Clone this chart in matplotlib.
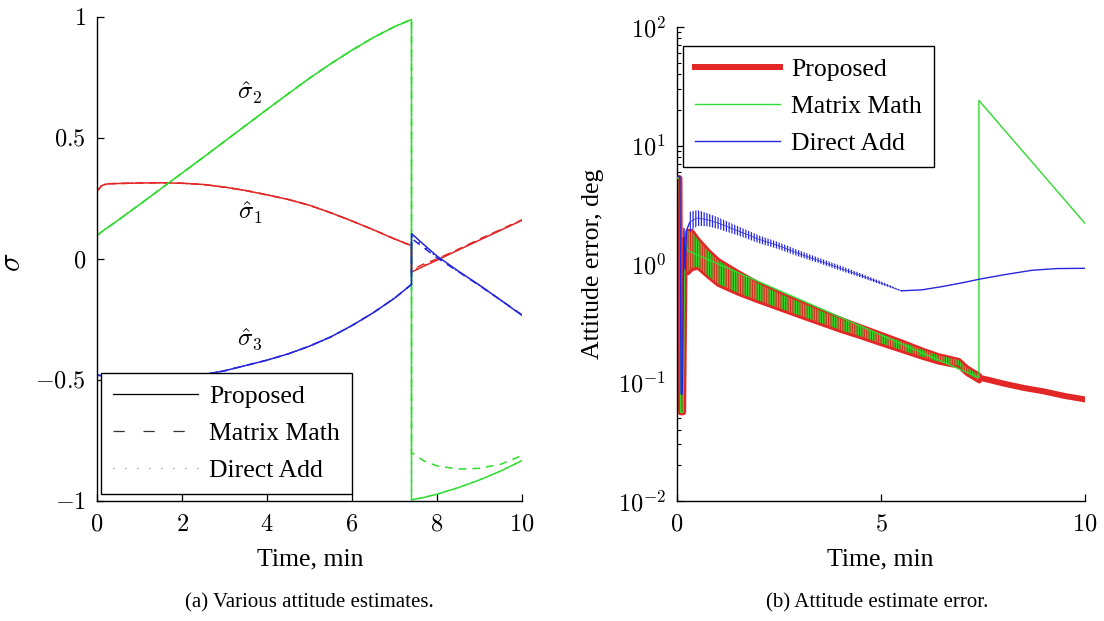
import matplotlib
matplotlib.use('Agg')
import matplotlib.pyplot as plt
from matplotlib.lines import Line2D
from matplotlib.ticker import LogLocator, NullFormatter

plt.rcParams['font.family'] = ['Liberation Serif', 'DejaVu Serif']
plt.rcParams['mathtext.fontset'] = 'cm'
plt.rcParams['hatch.linewidth'] = 0.9

RED = '#e32626'
GREEN = '#2edc2e'
BLUE = '#2626dc'

# ---------------- panel (a): attitude estimates ----------------
t_pre = [0.0, 0.05, 0.1, 0.2, 0.3, 0.5, 1.0, 1.5, 2.0, 2.5, 3.0, 3.5, 4.0,
         4.5, 5.0, 5.5, 6.0, 6.5, 7.0, 7.4]
s1_pre = [0.283, 0.29, 0.302, 0.309, 0.311, 0.312, 0.314, 0.315, 0.313, 0.308,
          0.297, 0.283, 0.265, 0.246, 0.222, 0.191, 0.157, 0.121, 0.083, 0.055]
s2_pre = [0.098, 0.104, 0.111, 0.124, 0.136, 0.161, 0.225, 0.29, 0.355, 0.42,
          0.486, 0.552, 0.618, 0.683, 0.747, 0.807, 0.863, 0.915, 0.96, 0.99]
s3_pre = [-0.48, -0.481, -0.482, -0.484, -0.485, -0.487, -0.492, -0.493, -0.488,
          -0.478, -0.462, -0.44, -0.418, -0.392, -0.36, -0.322, -0.275, -0.222,
          -0.162, -0.105]

t_post = [7.4, 7.7, 8.0, 8.5, 9.0, 9.5, 10.0]
s1_prop = [-0.054, -0.029, -0.005, 0.037, 0.078, 0.119, 0.16]
s2_prop = [-0.995, -0.985, -0.972, -0.945, -0.913, -0.876, -0.833]
s3_prop = [0.105, 0.058, 0.012, -0.05, -0.108, -0.17, -0.233]
s1_mm = [-0.045, -0.02, 0.0, 0.04, 0.082, 0.122, 0.162]
s2_mm = [-0.80, -0.835, -0.855, -0.868, -0.865, -0.848, -0.812]
s3_mm = [0.085, 0.045, 0.005, -0.052, -0.11, -0.17, -0.231]
s1_da = [-0.05, -0.025, -0.002, 0.039, 0.08, 0.12, 0.161]
s2_da = [-0.995, -0.985, -0.972, -0.945, -0.913, -0.876, -0.833]
s3_da = [0.095, 0.05, 0.008, -0.051, -0.109, -0.17, -0.232]

comp_labels = [r'$\hat{\sigma}_1$', r'$\hat{\sigma}_2$', r'$\hat{\sigma}_3$']
comp_label_pos = [(3.6, 0.189), (3.6, 0.685), (3.6, -0.332)]

# ---------------- panel (b): attitude error ----------------
# common initial transient (Proposed and Matrix Math coincide before 7.4 min)
pe_t = [0.0, 0.06, 0.09, 0.15, 0.19, 0.25]
pe_v = [5.3, 5.3, 0.056, 0.056, 1.6, 1.3]
band_t = [0.25, 0.35, 0.5, 0.75, 1.0, 1.5, 2.0, 2.5, 3.0, 3.5, 4.0, 4.5, 5.0,
          5.5, 6.0, 6.4, 6.7, 6.9, 7.1, 7.4]
pe_center = [1.3, 1.35, 1.25, 1.02, 0.86, 0.7, 0.58, 0.49, 0.42, 0.36, 0.31,
             0.27, 0.235, 0.205, 0.178, 0.16, 0.152, 0.147, 0.127, 0.11]
pe_upper = [1.9, 1.9, 1.62, 1.3, 1.08, 0.85, 0.68, 0.565, 0.478, 0.405, 0.345,
            0.297, 0.257, 0.222, 0.19, 0.17, 0.161, 0.155, 0.134, 0.116]
pe_lower = [0.85, 0.92, 0.95, 0.8, 0.68, 0.57, 0.49, 0.425, 0.368, 0.32, 0.278,
            0.245, 0.214, 0.188, 0.165, 0.15, 0.143, 0.139, 0.12, 0.104]
pe_post_t = [7.4, 7.7, 8.0, 8.5, 9.0, 9.5, 10.0]
pe_post_v = [0.11, 0.104, 0.098, 0.09, 0.084, 0.077, 0.072]

mm_post_t = [7.4, 7.4, 10.0]
mm_post_v = [0.11, 24.0, 2.2]

da_spike_t = [0.0, 0.07, 0.1, 0.13, 0.17, 0.2, 0.23, 0.3]
da_spike_v = [5.5, 5.5, 0.08, 0.08, 2.0, 0.9, 1.9, 2.2]
da_band_t = [0.3, 0.5, 0.75, 1.0, 1.5, 2.0, 2.5, 3.0, 3.5, 4.0, 4.5, 5.0, 5.5]
da_center = [2.25, 2.45, 2.36, 2.22, 1.9, 1.62, 1.42, 1.22, 1.06, 0.92, 0.8,
             0.69, 0.594]
da_upper = [2.75, 2.85, 2.68, 2.48, 2.08, 1.75, 1.52, 1.3, 1.12, 0.97, 0.835,
            0.715, 0.6]
da_lower = [1.85, 2.1, 2.08, 1.98, 1.74, 1.5, 1.33, 1.15, 1.01, 0.88, 0.77,
            0.67, 0.588]
da_post_t = [5.5, 6.0, 6.5, 7.0, 7.4, 8.0, 8.7, 9.3, 10.0]
da_post_v = [0.594, 0.605, 0.645, 0.695, 0.743, 0.81, 0.885, 0.915, 0.92]

method_names = ['Proposed', 'Matrix Math', 'Direct Add']

# ---------------- figure ----------------
W, H = 1104, 621
fig = plt.figure(figsize=(W / 100, H / 100), dpi=100)


def fx(px):
    return px / W


def fy(py):
    return 1 - py / H


axA = fig.add_axes([fx(97), fy(501), (522 - 97) / W, (501 - 17) / H])
axB = fig.add_axes([fx(677), fy(501), (1085 - 677) / W, (501 - 27) / H])

TICK_FS = 17.5
LAB_FS = 18.5
LW = 1.1

for ax in (axA, axB):
    ax.spines['top'].set_visible(False)
    ax.spines['right'].set_visible(False)
    for s in ('left', 'bottom'):
        ax.spines[s].set_linewidth(1.0)
    ax.tick_params(which='both', direction='in', labelsize=TICK_FS)
    ax.tick_params(which='major', length=5, width=0.9)
    ax.tick_params(which='minor', length=3, width=0.8)
    ax.tick_params(axis='x', pad=10)
    ax.tick_params(axis='y', pad=8)

LEG_KW = dict(borderaxespad=0, fontsize=LAB_FS, frameon=True, fancybox=False,
              framealpha=1, edgecolor='black', handlelength=3.3,
              handletextpad=0.45, labelspacing=0.55, borderpad=0.47)

# ---- panel (a)
colors = [RED, GREEN, BLUE]
pre = [s1_pre, s2_pre, s3_pre]
post_prop = [s1_prop, s2_prop, s3_prop]
post_mm = [s1_mm, s2_mm, s3_mm]
post_da = [s1_da, s2_da, s3_da]
for c, p, pp, pm, pd in zip(colors, pre, post_prop, post_mm, post_da):
    axA.plot(t_pre + t_post, p + pp, color=c, lw=LW, solid_joinstyle='miter')
    axA.plot(t_pre + t_post, p + pm, color=c, lw=LW, ls=(0, (5, 4)))
    axA.plot(t_pre + t_post, p + pd, color=c, lw=LW, ls=(0, (1, 5)))

for lab, (x, y) in zip(comp_labels, comp_label_pos):
    axA.text(x, y, lab, fontsize=18, ha='center', va='center')

axA.set_xlim(0, 10)
axA.set_ylim(-1, 1)
axA.set_xticks([0, 2, 4, 6, 8, 10], labels=['$0$', '$2$', '$4$', '$6$', '$8$', '$10$'])
axA.set_yticks([-1, -0.5, 0, 0.5, 1],
               labels=['$-1$', '$-0.5$', '$0$', '$0.5$', '$1$'])

handlesA = [Line2D([], [], color='black', lw=0.9),
            Line2D([], [], color='#333333', lw=0.9, ls=(0, (9, 15))),
            Line2D([], [], color='#333333', lw=0.9, ls=(0, (0.6, 9)))]
legA = axA.legend(handlesA, method_names, loc='lower left',
                  bbox_to_anchor=(0.0094, 0.0145), **LEG_KW)
legA.get_frame().set_linewidth(1.0)

# ---- panel (b)
axB.set_yscale('log')
# Proposed (thick red with oscillation envelope)
axB.fill_between(band_t, pe_lower, pe_upper, facecolor=RED, edgecolor=RED,
                 linewidth=3.6, joinstyle='round', zorder=2)
axB.plot(pe_t + band_t + pe_post_t, pe_v + pe_center + pe_post_v,
         color=RED, lw=4.3, solid_joinstyle='round', zorder=2)
# Matrix Math (thin green, coincident before 7.4 min)
axB.fill_between(band_t, pe_lower, pe_upper, facecolor='none', edgecolor=GREEN,
                 hatch='|||||||', linewidth=0, zorder=3)
axB.plot(pe_t + mm_post_t, pe_v + mm_post_v, color=GREEN, lw=1.0, zorder=3)
# Direct Add (thin blue)
axB.plot(da_spike_t, da_spike_v, color=BLUE, lw=1.0, zorder=4)
axB.fill_between(da_band_t, da_lower, da_upper, facecolor='none', edgecolor=BLUE,
                 hatch='||||||', linewidth=0, zorder=4)
axB.plot(da_band_t, da_center, color=BLUE, lw=0.5, zorder=4)
axB.plot(da_post_t, da_post_v, color=BLUE, lw=1.0, zorder=4)

axB.set_xlim(0, 10)
axB.set_ylim(1e-2, 1e2)
axB.set_xticks([0, 5, 10], labels=['$0$', '$5$', '$10$'])
axB.set_yticks([1e-2, 1e-1, 1e0, 1e1, 1e2],
               labels=['$10^{-2}$', '$10^{-1}$', '$10^{0}$', '$10^{1}$', '$10^{2}$'])
axB.yaxis.set_minor_locator(LogLocator(base=10, subs=range(2, 10), numticks=20))
axB.yaxis.set_minor_formatter(NullFormatter())

handlesB = [Line2D([], [], color=RED, lw=4.3),
            Line2D([], [], color=GREEN, lw=1.0),
            Line2D([], [], color=BLUE, lw=1.0)]
legB = axB.legend(handlesB, method_names, loc='upper left',
                  bbox_to_anchor=(0.0147, 0.96), **LEG_KW)
legB.get_frame().set_linewidth(1.0)
legB.set_zorder(10)

# ---- labels and captions
fig.text(fx(310), fy(559), 'Time, min', fontsize=LAB_FS, ha='center', va='center')
fig.text(fx(880), fy(559), 'Time, min', fontsize=LAB_FS, ha='center', va='center')
fig.text(fx(13), fy(262), r'$\sigma$', fontsize=22, rotation=90,
         ha='center', va='center')
fig.text(fx(593), fy(264), 'Attitude error, deg', fontsize=LAB_FS, rotation=90,
         ha='center', va='center')
fig.text(fx(309), fy(603), '(a) Various attitude estimates.', fontsize=15,
         ha='center', va='center')
fig.text(fx(877), fy(603), '(b) Attitude estimate error.', fontsize=15,
         ha='center', va='center')

fig.savefig('out.png', dpi=100)
